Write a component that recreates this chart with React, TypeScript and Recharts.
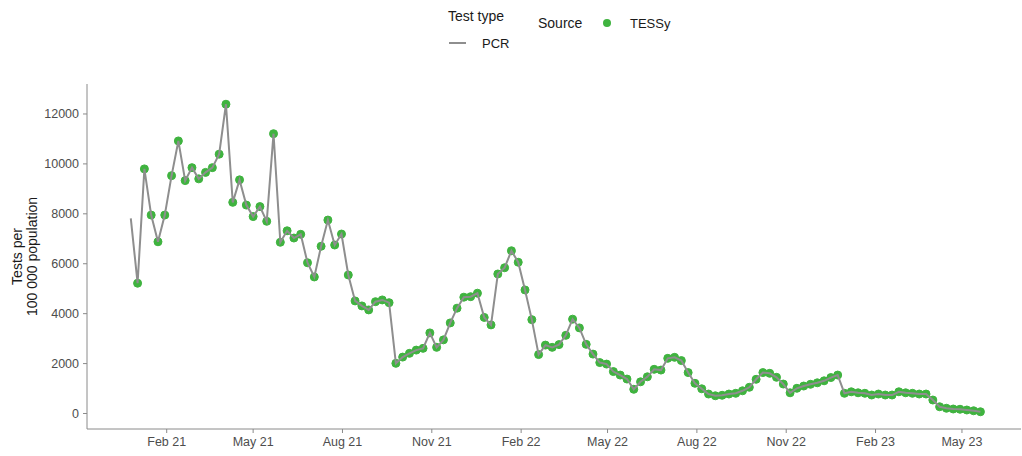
import { LineChart, Line, XAxis, YAxis } from 'recharts';

const DAY = 86400000;
const FEB_2021 = Date.UTC(2021, 1, 1);

// first plotted week, in days relative to 1 Feb 2021; one point per week after it
const firstWeekOffset = -37;

// weekly PCR tests per 100 000 population
const pcrRate = [
  7820, 5220, 9800, 7950, 6880, 7950, 9530, 10920, 9330, 9850,
  9400, 9660, 9850, 10390, 12390, 8460, 9360, 8350, 7890, 8290,
  7700, 11210, 6860, 7320, 7030, 7180, 6040, 5470, 6700, 7750,
  6750, 7190, 5550, 4510, 4310, 4150, 4480, 4550, 4440, 2010,
  2260, 2410, 2540, 2610, 3230, 2650, 2950, 3630, 4220, 4660,
  4680, 4820, 3850, 3550, 5590, 5840, 6520, 6060, 4950, 3760,
  2360, 2740, 2650, 2760, 3130, 3780, 3430, 2770, 2380, 2040,
  1980, 1680, 1540, 1380, 970, 1270, 1470, 1770, 1740, 2210,
  2250, 2120, 1640, 1210, 990, 780, 710, 730, 780, 810,
  910, 1050, 1370, 1640, 1610, 1450, 1180, 830, 1010, 1100,
  1170, 1230, 1310, 1440, 1540, 810, 870, 830, 810, 740,
  780, 740, 740, 870, 830, 810, 780, 780, 540, 270,
  210, 180, 170, 140, 110, 70,
];

// TESSy reports start from the second week
const tessyFirstWeek = 1;

const tickDates = [
  [2021, 1], [2021, 4], [2021, 7], [2021, 10],
  [2022, 1], [2022, 4], [2022, 7], [2022, 10],
  [2023, 1], [2023, 4],
];
const monthNames = ['Jan', 'Feb', 'Mar', 'Apr', 'May', 'Jun', 'Jul', 'Aug', 'Sep', 'Oct', 'Nov', 'Dec'];
const yTicks = [0, 2000, 4000, 6000, 8000, 10000, 12000];

const rows = pcrRate.map((v, i) => ({
  t: FEB_2021 + (firstWeekOffset + 7 * i) * DAY,
  pcr: v,
  tessy: i >= tessyFirstWeek ? v : null,
}));

const xTicks = tickDates.map(([y, m]) => Date.UTC(y, m, 1));

const FONT = '"Liberation Sans", Arial, sans-serif';
const GREY_LINE = '#8e8e8e';
const GREEN = '#3fb33f';
const AXIS = '#8a8a8a';
const TICK_TEXT = '#4d4d4d';

function fmtMonth(v: number) {
  const d = new Date(v);
  return `${monthNames[d.getUTCMonth()]} ${String(d.getUTCFullYear()).slice(2)}`;
}

function YTitle(props: any) {
  const vb = props.viewBox || { y: 84, height: 345 };
  const cy = vb.y + vb.height / 2;
  return (
    <g fontFamily={FONT} fontSize={14} fill="#1a1a1a">
      <text x={22} y={cy} textAnchor="middle" transform={`rotate(-90, 22, ${cy})`}>Tests per</text>
      <text x={37} y={cy} textAnchor="middle" transform={`rotate(-90, 37, ${cy})`}>100 000 population</text>
    </g>
  );
}

function LegendBlock() {
  return (
    <svg width={1022} height={60} style={{ position: 'absolute', left: 0, top: 0, pointerEvents: 'none' }}>
      <g fontFamily={FONT} fill="#1a1a1a">
        <text x={448} y={21} fontSize={14}>Test type</text>
        <line x1={449} x2={466} y1={43} y2={43} stroke={GREY_LINE} strokeWidth={2} />
        <text x={482} y={48} fontSize={13}>PCR</text>
        <text x={538} y={28} fontSize={14}>Source</text>
        <circle cx={607} cy={23} r={4} fill={GREEN} />
        <text x={630} y={28} fontSize={13}>TESSy</text>
      </g>
    </svg>
  );
}

export default function App() {
  return (
    <div style={{ position: 'absolute', left: 0, top: 0, width: 1022, height: 456, background: '#fff' }}>
      <LineChart width={1022} height={456} data={rows} margin={{ top: 84, right: 1, bottom: 0, left: 0 }}>
        <XAxis
          dataKey="t"
          type="number"
          domain={[FEB_2021 - 82.1 * DAY, FEB_2021 + 879.8 * DAY]}
          allowDataOverflow
          ticks={xTicks}
          tickFormatter={fmtMonth}
          height={27}
          stroke={AXIS}
          tickSize={4}
          tickMargin={4}
          tick={{ fill: TICK_TEXT, fontSize: 12.5, fontFamily: FONT }}
        />
        <YAxis
          type="number"
          domain={[-621, 13201]}
          allowDataOverflow
          ticks={yTicks}
          width={87}
          stroke={AXIS}
          tickSize={4}
          tickMargin={4}
          tick={{ fill: TICK_TEXT, fontSize: 12.5, fontFamily: FONT }}
          label={<YTitle />}
        />
        <Line
          dataKey="tessy"
          stroke="transparent"
          strokeWidth={0}
          dot={{ r: 4, fill: GREEN, stroke: GREEN, strokeWidth: 1 }}
          activeDot={false}
          isAnimationActive={false}
          {...({ zIndex: 500 } as any)}
        />
        <Line
          dataKey="pcr"
          type="linear"
          stroke={GREY_LINE}
          strokeWidth={2}
          dot={false}
          activeDot={false}
          isAnimationActive={false}
          {...({ zIndex: 1200 } as any)}
        />
      </LineChart>
      <LegendBlock />
    </div>
  );
}
